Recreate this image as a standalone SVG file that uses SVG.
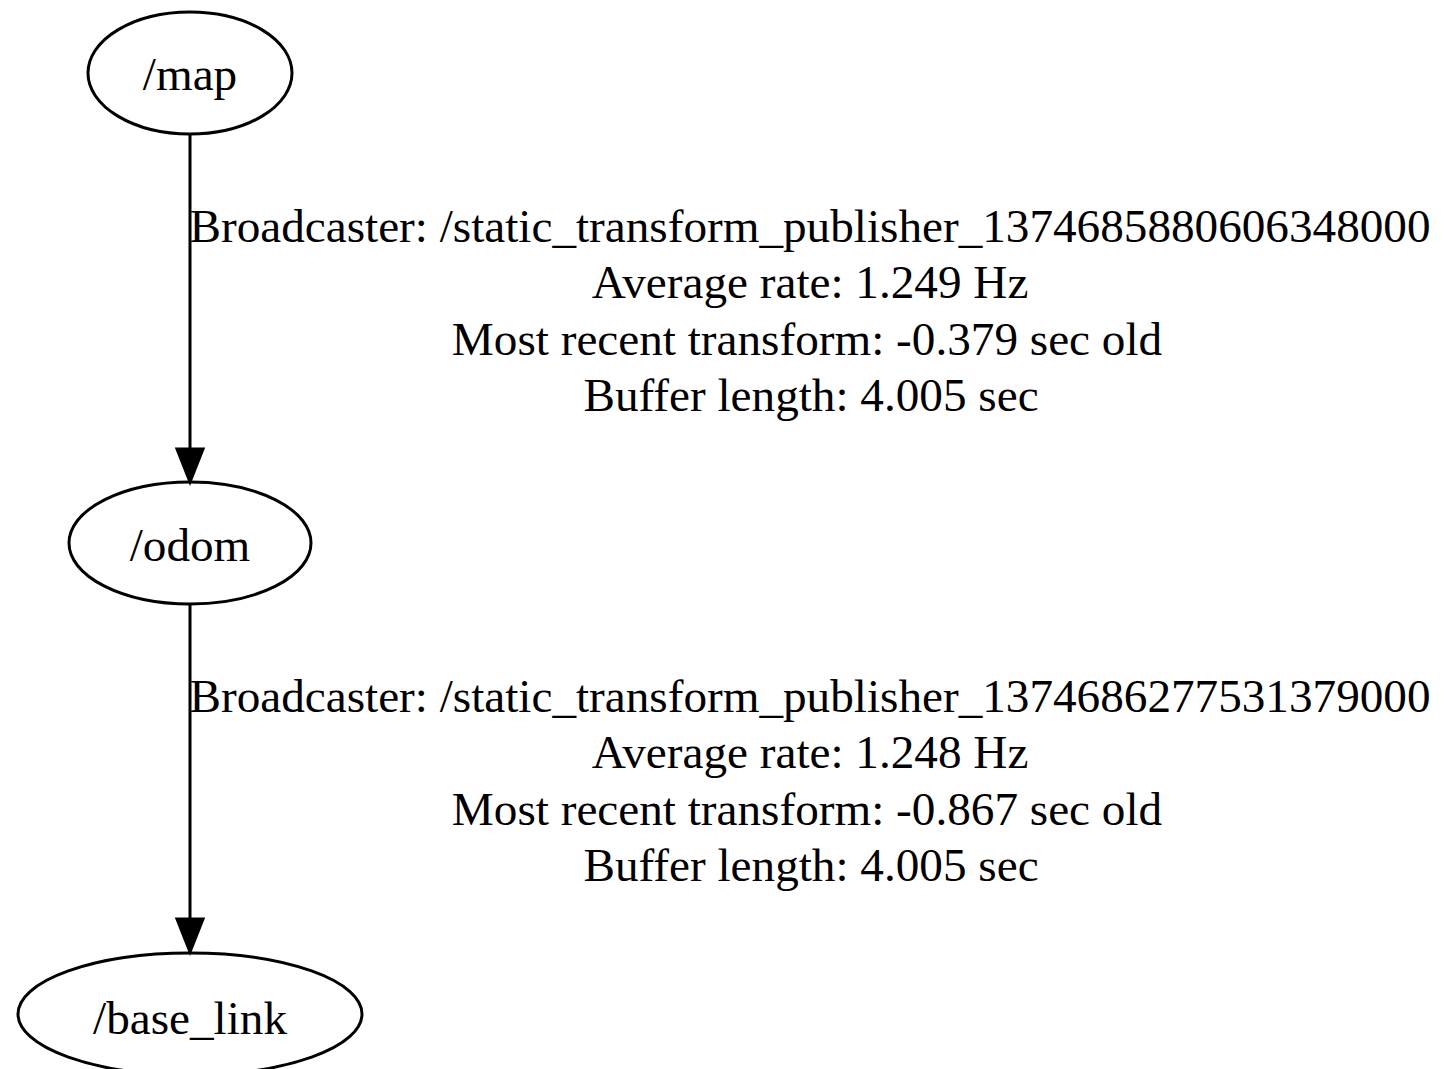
<svg xmlns="http://www.w3.org/2000/svg" width="1445" height="1069" viewBox="0 0 1445 1069">
  <style>
    .node ellipse { fill: none; stroke: #000; stroke-width: 3; }
    .node text { font-family: "Liberation Serif", "Times New Roman", serif; font-size: 47.2px; text-anchor: middle; fill: #000; }
    .edge line { stroke: #000; stroke-width: 3; }
    .edge polygon { fill: #000; stroke: #000; stroke-width: 3; }
    .edge text { font-family: "Liberation Serif", "Times New Roman", serif; font-size: 47.2px; text-anchor: middle; fill: #000; }
  </style>
  <rect width="1445" height="1069" fill="#fff"/>

  <!-- transform tree frames -->
  <g id="node-map" class="node">
    <ellipse cx="190" cy="73" rx="102" ry="61"/>
    <text x="190" y="90">/map</text>
  </g>
  <g id="node-odom" class="node">
    <ellipse cx="190" cy="543" rx="121" ry="61"/>
    <text x="190" y="561">/odom</text>
  </g>
  <g id="node-base_link" class="node">
    <ellipse cx="190" cy="1014" rx="172" ry="61"/>
    <text x="190" y="1034">/base_link</text>
  </g>

  <!-- parent -> child transforms -->
  <g id="edges">
    <g class="edge" id="edge-map-odom">
      <line x1="190" y1="134" x2="190" y2="449"/>
      <polygon points="177,449 203,449 190,482"/>
      <text x="810" y="242">Broadcaster: /static_transform_publisher_1374685880606348000</text>
      <text x="810" y="298">Average rate: 1.249 Hz</text>
      <text x="807" y="355">Most recent transform: -0.379 sec old</text>
      <text x="811" y="411">Buffer length: 4.005 sec</text>
    </g>
    <g class="edge" id="edge-odom-base_link">
      <line x1="190" y1="604" x2="190" y2="919"/>
      <polygon points="177,919 203,919 190,952"/>
      <text x="810" y="712">Broadcaster: /static_transform_publisher_1374686277531379000</text>
      <text x="810" y="768">Average rate: 1.248 Hz</text>
      <text x="807" y="825">Most recent transform: -0.867 sec old</text>
      <text x="811" y="881">Buffer length: 4.005 sec</text>
    </g>
  </g>
</svg>
